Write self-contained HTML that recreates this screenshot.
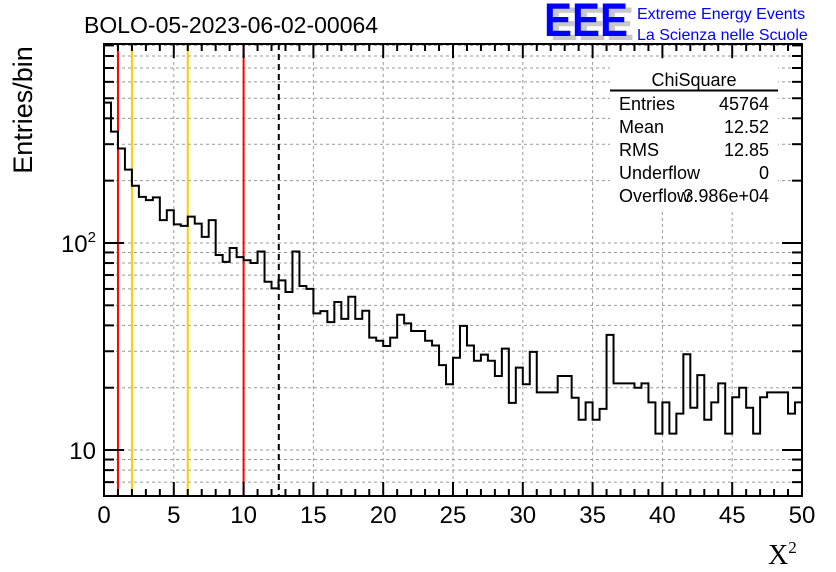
<!DOCTYPE html>
<html><head><meta charset="utf-8"><style>
body{margin:0;background:#fff;}
svg{display:block;font-family:"Liberation Sans",sans-serif;}
</style></head><body>
<svg id="c" width="836" height="572" viewBox="0 0 836 572">
<rect width="836" height="572" fill="#fff"/>
<text x="84" y="33" font-size="23">BOLO-05-2023-06-02-00064</text>
<g>
<text x="550" y="40" font-size="47" font-weight="bold" fill="#c8c8c8" textLength="84" lengthAdjust="spacingAndGlyphs">EEE</text>
<text x="544" y="36" font-size="47" font-weight="bold" fill="#0000ff" textLength="84" lengthAdjust="spacingAndGlyphs">EEE</text>
<text x="637" y="19" font-size="16" fill="#0000ff">Extreme Energy Events</text>
<text x="637" y="40" font-size="16" fill="#0000ff">La Scienza nelle Scuole</text>
</g>
<g id="grid"></g>
<g id="marks"></g>
<g id="axes"></g>
<g font-size="18">
<rect x="610" y="62" width="168" height="148" fill="#fff"/>
<text x="694" y="86" text-anchor="middle">ChiSquare</text>
<line x1="610" y1="90.5" x2="778" y2="90.5" stroke="#000" stroke-width="2"/>
<text x="619" y="110">Entries</text><text x="769" y="110" text-anchor="end">45764</text>
<text x="619" y="133">Mean</text><text x="769" y="133" text-anchor="end">12.52</text>
<text x="619" y="156">RMS</text><text x="769" y="156" text-anchor="end">12.85</text>
<text x="619" y="179">Underflow</text><text x="769" y="179" text-anchor="end">0</text>
<text x="619" y="202">Overflow</text><text x="769" y="202" text-anchor="end">3.986e+04</text>
</g>
<text transform="translate(32,110) rotate(-90)" font-size="27" text-anchor="middle">Entries/bin</text>
<text x="768" y="564" font-size="28" font-family="Liberation Serif,serif">X<tspan font-size="17" dy="-11">2</tspan></text>
</svg>
<script>
const counts=[476,345,286,226,189,167,161,166,129,144,123,121,134,124,107,129,87.5,81,94.6,85.5,82.5,80,91,65,60.4,66,58,91,62,60,45.7,46.9,41.5,51.9,43,55,43,47.1,34.9,33.7,31.8,34.9,45,40.9,37.6,37.6,33.7,32,25.7,20.8,27.9,39.8,32,27,28.9,27,22.8,30.9,16.9,25,20.8,29.8,19,19,19,22.8,22.8,17.9,14,17,14,15.8,36,21,21,21,20,21,17,12,17,12,15,29,16,23,14,17,21,12,18,20,16,12,18,19,19,19,15,17];
const binLow=0, binWidth=0.5;
const xTicks=[0,5,10,15,20,25,30,35,40,45,50];
const cutLines=[{v:1,c:"#ff0000",n:"cut-line-1"},{v:2,c:"#ffcc00",n:"cut-line-2"},{v:6,c:"#ffcc00",n:"cut-line-6"},{v:10,c:"#ff0000",n:"cut-line-10"}];
const meanValue=12.52;
const L=104,R=802,T=44,B=496,XMIN=0,XMAX=50,YMIN=6.0,YMAX=914;
const NS="http://www.w3.org/2000/svg";
function X(v){return L+(v-XMIN)/(XMAX-XMIN)*(R-L);}
function Y(v){return B-(Math.log10(v)-Math.log10(YMIN))/(Math.log10(YMAX)-Math.log10(YMIN))*(B-T);}
function mk(t,a,p){const e=document.createElementNS(NS,t);for(const k in a)e.setAttribute(k,a[k]);p.appendChild(e);return e;}
const grid=document.getElementById('grid'),marks=document.getElementById('marks'),axes=document.getElementById('axes');
xTicks.forEach(v=>{if(v>XMIN&&v<XMAX){const l=mk('line',{x1:X(v),x2:X(v),y1:T,y2:B,stroke:'#999','stroke-dasharray':'3,3','stroke-width':1},grid);

}});
const yvals=[];for(let d=1;d<=100;d*=10)for(let m=1;m<=9;m++){const v=m*d;if(v>YMIN&&v<YMAX)yvals.push(v);}
yvals.forEach(v=>{const y=Y(v);const l=mk('line',{x1:L,x2:R,y1:y,y2:y,stroke:'#999','stroke-dasharray':'3,3','stroke-width':1},grid);


const major=(v===10||v===100);
[[L,L+(major?20:10)],[R,R-(major?20:10)]].forEach(p=>{const t=mk('line',{x1:p[0],x2:p[1],y1:y,y2:y,stroke:'#000','stroke-width':2},axes);

});});
cutLines.forEach(c=>{const l=mk('line',{x1:X(c.v),x2:X(c.v),y1:T,y2:B,stroke:c.c,'stroke-width':2},marks);

});
const ml=mk('line',{x1:X(meanValue),x2:X(meanValue),y1:T,y2:B,stroke:'#000','stroke-width':2,'stroke-dasharray':'6,4'},marks);


let d='';counts.forEach((c,i)=>{const x0=X(binLow+i*binWidth),x1=X(binLow+(i+1)*binWidth),y=Y(c);d+=(i===0?'M'+x0+','+y:'L'+x0+','+y)+'L'+x1+','+y;});
const h=mk('path',{d:d,fill:'none',stroke:'#000','stroke-width':2},marks);


const fr=mk('rect',{x:L,y:T,width:R-L,height:B-T,fill:'none',stroke:'#000','stroke-width':2},axes);


for(let v=XMIN;v<=XMAX;v+=1){const major=v%5===0;const len=major?14:7;
[[B,B-len],[T,T+len]].forEach(p=>{const t=mk('line',{x1:X(v),x2:X(v),y1:p[0],y2:p[1],stroke:'#000','stroke-width':2},axes);

});}
xTicks.forEach(v=>{const t=mk('text',{x:X(v),y:523,'font-size':24,'text-anchor':'middle'},axes);t.textContent=v;

});
const t1=mk('text',{x:96,y:Y(10)+9,'font-size':24,'text-anchor':'end'},axes);t1.textContent='10';


const t2=mk('text',{x:96,y:Y(100)+9,'font-size':24,'text-anchor':'end'},axes);t2.innerHTML='10<tspan font-size="15" dy="-10">2</tspan>';


</script>
</body></html>
